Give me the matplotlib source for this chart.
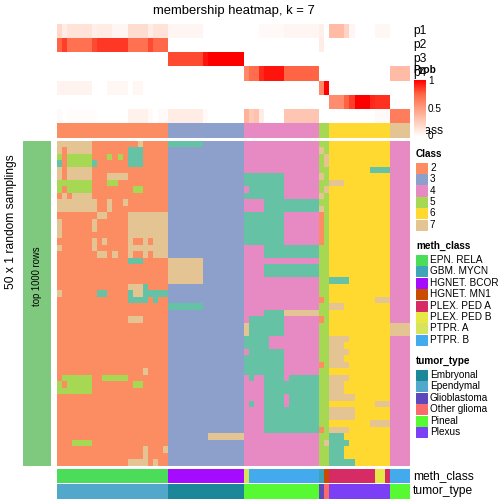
import numpy as np
import matplotlib
matplotlib.use('Agg')
import matplotlib.pyplot as plt
from matplotlib.colors import ListedColormap, LinearSegmentedColormap, BoundaryNorm

plt.rcParams['font.family'] = ['Liberation Sans', 'DejaVu Sans']

# consensus class of each sampling (row) for each sample (column)
# column groups: class 2 | class 3 | class 4 | class 5 | class 6 | class 7
membership_rows = [
  "7777777222222222722222|111111133333333|444444444444444|55|666666666666|4444",
  "7277777222222211122222|333333333333333|444444444444444|75|666666666666|4444",
  "5255555222525211122222|333333333333333|444444444444444|57|666666666666|4444",
  "1255555122222211122222|333333333333333|444444444444444|57|666666666666|4444",
  "7277777222222222222222|333333333333333|444444444444444|55|666666661111|4444",
  "7277777222777722222222|333333333333333|111111114444444|75|666666666666|4444",
  "5555555222552222222222|333333333333333|111111114444444|55|777666666666|4444",
  "5255555222222225522222|333333333333333|411111114444444|57|666666666666|4444",
  "2727777222222222222222|333333333333333|111111114444444|75|666666666666|4444",
  "7777777722722722222222|333333333333333|444411111111111|55|666666666666|4444",
  "7777777722722222222222|333333333333333|444411111111111|75|666666666666|4444",
  "2222222277222277777777|333333333333333|111111114444444|25|666666666666|4444",
  "7222222722222277777777|333333333333333|111111114444444|25|666666666666|4444",
  "7222222722222277777777|333333333333333|111111114444444|25|666666666666|4444",
  "7222222222222277777777|333333333333333|111111114444444|25|666666666666|4444",
  "2222222727222272272777|333333333333333|111111114444444|25|666666666666|4444",
  "7222222722222277777777|333333333333333|444411111111111|55|666666666666|4444",
  "2222222277272272272777|333333333333333|444411111111111|55|666666666666|4444",
  "2222222222222211122222|777777733333333|444444444444444|55|666666666666|4444",
  "2222222222222222222222|777777733333333|444411111111111|55|666666666666|4444",
  "2222222222222222222222|777777733333333|444411111111111|55|666666666666|4444",
  "2222222222222222222222|777777733333333|444444444444444|55|111166666666|4444",
  "2222222222222277712222|333333333333333|444444444444444|55|666666666666|4444",
  "7222222211222217711111|333333333333333|444444444444444|55|666666666666|4444",
  "2222222222222211112122|333333333333333|444444444444444|25|666666666777|4444",
  "2222222222222222222222|111111133333333|444444444444444|55|777666666666|4444",
  "2222222222222222222222|333333333333333|444411117777777|55|666666666666|4444",
  "2222222222222277722222|333333333333333|411111114444444|25|666666666666|4444",
  "2222222222222222222222|333333333333333|711111114444444|55|666666666666|7777",
  "2222222222222222222222|333333333333333|711111114444444|55|666666666666|7777",
  "2222222222222222222222|333333333333333|111114444444444|55|777766666666|4444",
  "2222222222222222222222|333333333333333|111114444444444|55|777666666666|4444",
  "2222222222222222222222|333333333333333|411111114444444|55|777766666666|4444",
  "2222222222222222222222|333333333333333|111111114444444|55|777666666666|4444",
  "2222222222222222222222|333333333333333|111111114444444|25|777766666666|4444",
  "2222222222222222272222|333333333333333|111111114444444|55|666666666666|4444",
  "2555555225555522222222|333333333333333|414411114111111|55|777766666666|4444",
  "5255555222222225522222|333333333333333|444411111111111|55|777666666666|4444",
  "5555555222222222222222|333333333333333|444411111111111|55|777666666666|4444",
  "2222222222222222222222|333333333333333|444411114111111|55|777776666666|4444",
  "2222222222222222222222|333333333333333|414411114111111|55|666666666777|4444",
  "2222222222222222222222|333333333333333|444411111111111|55|777776666666|4444",
  "2222222222222222222222|333333333333333|444411111111111|55|777776666666|4444",
  "2222222222222222222222|333333333333333|444411111111111|55|666666667777|4444",
  "2222222222222222222222|333333333333333|444411111111111|25|777766666666|4444",
  "2222222222222222222222|333333337777777|444444444444444|55|111666666666|4444",
  "2225555222222222222222|333333333333333|444444444444444|57|111166666666|4444",
  "2222222222222222272227|333333333333333|444444444444444|55|111666666666|4444",
  "2222222222222222272222|333333333333333|444444444444444|55|111666666666|4444",
  "2222222222222277772722|333333333333333|444444444444444|55|111116666666|4444",
]

column_class = "2222222222222222222222" + "333333333333333" + "444444444444444" + "55" + "666666666666" + "7777"

p1 = [0.2, 0.1, 0.15, 0.15, 0.15, 0.15, 0.15, 0.08, 0.1, 0.1, 0.1, 0.05, 0.05, 0.05, 0.18, 0.18, 0.18, 0.18, 0.1, 0.15, 0.15, 0.15,
      0.05, 0.05, 0.05, 0.05, 0.05, 0.05, 0.05, 0, 0, 0, 0, 0, 0, 0, 0,
      0, 0, 0, 0.03, 0.03, 0.03, 0.03, 0.03, 0.05, 0.05, 0.05, 0.05, 0.05, 0.05, 0.05,
      0.08, 0,
      0.35, 0.35, 0.35, 0.22, 0.05, 0, 0, 0, 0, 0.04, 0.04, 0.04,
      0, 0, 0, 0]
p2 = [0.75, 0.85, 0.7, 0.7, 0.7, 0.7, 0.7, 0.82, 0.86, 0.86, 0.86, 0.86, 0.86, 0.86, 0.7, 0.7, 0.7, 0.7, 0.82, 0.74, 0.74, 0.74,
      0, 0, 0, 0, 0, 0, 0, 0, 0, 0, 0, 0, 0, 0, 0,
      0, 0, 0, 0, 0, 0, 0, 0, 0, 0, 0, 0, 0, 0, 0,
      0.1, 0,
      0, 0, 0, 0, 0, 0, 0, 0, 0, 0, 0, 0,
      0, 0, 0, 0]
p3 = [0, 0, 0, 0, 0, 0, 0, 0, 0, 0, 0, 0, 0, 0, 0, 0, 0, 0, 0, 0, 0, 0,
      0.82, 0.82, 0.82, 0.82, 0.82, 0.82, 0.82, 0.95, 1, 1, 1, 1, 1, 1, 1,
      0, 0, 0, 0, 0, 0, 0, 0, 0, 0, 0, 0, 0, 0, 0,
      0, 0,
      0, 0, 0, 0, 0, 0, 0, 0, 0, 0, 0, 0,
      0, 0, 0, 0]
p4 = [0, 0, 0, 0, 0, 0, 0, 0, 0, 0, 0, 0, 0, 0, 0, 0, 0, 0, 0, 0, 0, 0,
      0, 0, 0, 0, 0, 0, 0, 0, 0, 0, 0, 0, 0, 0, 0,
      0.6, 0.72, 0.72, 0.9, 0.95, 0.95, 0.95, 0.95, 0.75, 0.75, 0.75, 0.75, 0.75, 0.75, 0.75,
      0, 0,
      0, 0, 0, 0, 0, 0, 0, 0, 0, 0, 0, 0,
      0.35, 0.35, 0.35, 0.35]
p5 = [0.06, 0.06, 0.06, 0.06, 0.06, 0.06, 0.06, 0, 0, 0, 0.04, 0.04, 0.04, 0.04, 0, 0.04, 0.04, 0, 0, 0, 0, 0,
      0, 0, 0, 0, 0, 0, 0, 0, 0, 0, 0, 0, 0, 0, 0,
      0, 0, 0, 0, 0, 0, 0, 0, 0, 0, 0, 0, 0, 0, 0,
      0.6, 1,
      0, 0, 0, 0, 0, 0, 0, 0, 0, 0, 0, 0,
      0, 0, 0, 0]
p6 = [0, 0, 0, 0, 0, 0, 0, 0, 0, 0, 0, 0, 0, 0, 0, 0, 0, 0, 0, 0, 0, 0,
      0, 0, 0, 0, 0, 0, 0, 0, 0, 0, 0, 0, 0, 0, 0,
      0, 0, 0, 0, 0, 0, 0, 0, 0, 0, 0, 0, 0, 0, 0,
      0, 0,
      0.58, 0.58, 0.58, 0.75, 0.85, 1, 1, 1, 0.9, 0.88, 0.88, 0.88,
      0, 0, 0, 0]
p7 = [0.03, 0, 0.015, 0.015, 0.015, 0.015, 0.015, 0.015, 0, 0, 0, 0, 0, 0, 0.07, 0.07, 0.07, 0.07, 0.03, 0, 0.03, 0.03,
      0.1, 0.1, 0.1, 0.1, 0.1, 0.1, 0.1, 0.03, 0, 0, 0, 0, 0, 0, 0,
      0.4, 0.28, 0.32, 0.1, 0, 0, 0, 0, 0.3, 0.3, 0.3, 0.3, 0.3, 0.3, 0.3,
      0, 0,
      0, 0, 0, 0, 0, 0, 0, 0, 0, 0.03, 0.03, 0.03,
      0.65, 0.65, 0.65, 0.65]

meth_class = (["EPN. RELA"] * 22 + ["HGNET. BCOR"] * 15 + ["PTPR. A"] + ["PTPR. B"] * 14
              + ["GBM. MYCN", "HGNET. MN1"] + ["PLEX. PED A"] * 9 + ["PLEX. PED B"] * 2
              + ["PLEX. PED A"] + ["PTPR. B"] * 4)
tumor_type = (["Ependymal"] * 22 + ["Embryonal"] * 15 + ["Pineal"] * 15
              + ["Glioblastoma", "Other glioma"] + ["Plexus"] * 12 + ["Pineal"] * 4)

class_levels = [2, 3, 4, 5, 6, 7]
meth_levels = ["EPN. RELA", "GBM. MYCN", "HGNET. BCOR", "HGNET. MN1",
               "PLEX. PED A", "PLEX. PED B", "PTPR. A", "PTPR. B"]
tumor_levels = ["Embryonal", "Ependymal", "Glioblastoma", "Other glioma", "Pineal", "Plexus"]

class_colors = ['#66C2A5', '#FC8D62', '#8DA0CB', '#E78AC3', '#A6D854', '#FFD92F', '#E5C494']
meth_colors = ['#4BDD5A', '#3EA5B8', '#A50CFF', '#C84B00', '#D62B64', '#E5E845', '#D7E35A', '#44AAEE']
tumor_colors = ['#1B8799', '#52A8CB', '#5E48BE', '#F96B6B', '#56F932', '#7B40F5']

W = H = 504
fig = plt.figure(figsize=(7, 7), dpi=72)


def box(x0, y0, x1, y1, z=0):
  ax = fig.add_axes([x0 / W, 1 - y1 / H, (x1 - x0) / W, (y1 - y0) / H], zorder=z)
  ax.set_axis_off()
  return ax


cls_cmap = ListedColormap(class_colors)
cls_norm = BoundaryNorm(np.arange(0.5, 8.5, 1), 7)
prob_cmap = LinearSegmentedColormap.from_list(
  'prob', ['#FFFFFF', '#FFCFBF', '#FF9E81', '#FF6746', '#FF0000'])

X0, X1 = 57.3, 410

# membership heatmap
mat = np.array([[int(c) for c in r.replace('|', '')] for r in membership_rows])
ax = box(X0, 141, X1, 466)
ax.imshow(mat, cmap=cls_cmap, norm=cls_norm, aspect='auto', interpolation='nearest')

# probability annotation
prob = np.array([p1, p2, p3, p4, p5, p6, p7])
ax = box(X0, 24, X1, 122.7)
ax.imshow(prob, cmap=prob_cmap, vmin=0, vmax=1, aspect='auto', interpolation='nearest')

# class annotation
ax = box(X0, 123.3, X1, 137.7)
ax.imshow(np.array([[int(c) for c in column_class]]), cmap=cls_cmap, norm=cls_norm,
          aspect='auto', interpolation='nearest')

# bottom annotations
ax = box(X0, 469, X1, 483)
ax.imshow(np.array([[meth_levels.index(m) for m in meth_class]]), cmap=ListedColormap(meth_colors),
          vmin=-0.5, vmax=len(meth_levels) - 0.5, aspect='auto', interpolation='nearest')
ax = box(X0, 484, X1, 498.5)
ax.imshow(np.array([[tumor_levels.index(t) for t in tumor_type]]), cmap=ListedColormap(tumor_colors),
          vmin=-0.5, vmax=len(tumor_levels) - 0.5, aspect='auto', interpolation='nearest')

# left bar
ax = box(23, 141, 51, 466)
ax.add_patch(plt.Rectangle((0, 0), 1, 1, color='#7FC97F'))
ax.text(0.5, 0.585, 'top 1000 rows', rotation=90, ha='center', va='center', fontsize=9.5)
fig.text(11 / W, 1 - 222 / H, '50 x 1 random samplings', rotation=90, ha='center', va='center', fontsize=12)

fig.text(234 / W, 1 - 11 / H, 'membership heatmap, k = 7', ha='center', va='center', fontsize=13)

for i in range(7):
  fig.text(413 / W, 1 - (31 + 14.1 * i) / H, 'p%d' % (i + 1), ha='left', va='center', fontsize=12)
fig.text(413 / W, 1 - 130.5 / H, 'Class', ha='left', va='center', fontsize=12)
fig.text(413 / W, 1 - 476 / H, 'meth_class', ha='left', va='center', fontsize=12)
fig.text(413 / W, 1 - 491 / H, 'tumor_type', ha='left', va='center', fontsize=12)

# Prob colour bar drawn over the labels
ax = box(414, 80, 426, 137, z=10)
ax.imshow(np.linspace(1, 0, 200)[:, None], cmap=prob_cmap, vmin=0, vmax=1, aspect='auto')
ax.set_facecolor('white')
ax_txt = box(405, 60, 460, 145, z=11)
ax_txt.set_xlim(405, 460)
ax_txt.set_ylim(145, 60)
ax_txt.text(413, 70, 'Prob', fontsize=10, fontweight='bold', ha='left', va='center')
for v, y in [(1, 81), (0.5, 108.5), (0, 136)]:
  ax_txt.text(428, y, '%g' % v, fontsize=10, ha='left', va='center')


def legend(title, y_title, labels, colors, y0):
  fig.text(416 / W, 1 - y_title / H, title, fontsize=10, fontweight='bold', ha='left', va='center')
  for k, (lab, col) in enumerate(zip(labels, colors)):
    y = y0 + 11.4 * k
    fig.patches.append(plt.Rectangle((416 / W, 1 - (y + 10) / H), 10.5 / W, 10 / H,
                                     transform=fig.transFigure, color=col, figure=fig))
    fig.text(430 / W, 1 - (y + 5) / H, lab, fontsize=10, ha='left', va='center')


legend('Class', 154, [str(c) for c in class_levels], class_colors[1:], 162.7)
legend('meth_class', 246, meth_levels, meth_colors, 255)
legend('tumor_type', 361.5, tumor_levels, tumor_colors, 370)

fig.savefig('out.png', dpi=72)
